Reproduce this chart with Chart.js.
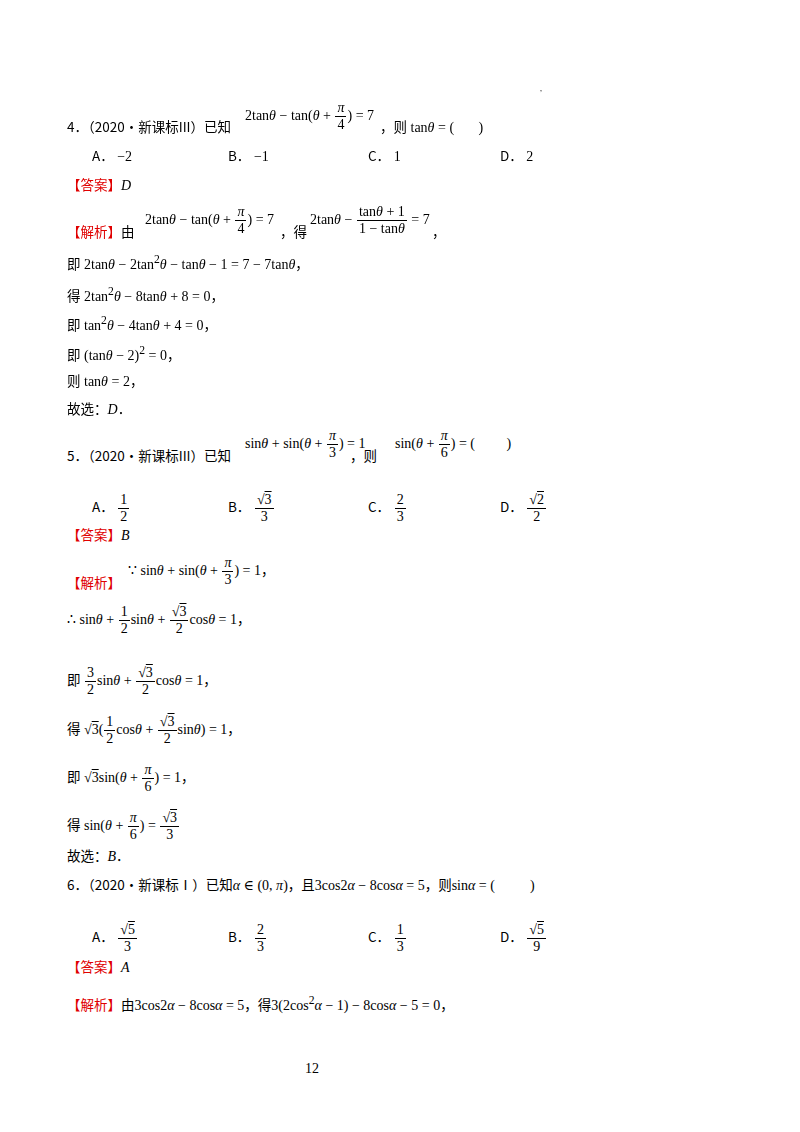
<!DOCTYPE html>
<html><head><meta charset="utf-8">
<script src="https://cdn.jsdelivr.net/npm/chart.js@4/dist/chart.umd.min.js"></script>
<style>
body{margin:0;width:800px;height:1132px;background:#fff;position:relative;overflow:hidden;font-family:"Liberation Serif","DejaVu Serif",serif;color:#000}
#bg{position:absolute;left:0;top:0;width:800px;height:1132px}
.t{position:absolute;font-size:14px;white-space:nowrap;line-height:1}
.cn{font-family:"Noto Sans CJK SC",sans-serif;font-size:13.5px}
.r{color:#e00000;font-family:"Noto Sans CJK SC",sans-serif;font-size:13.5px}
.i{font-style:italic}
.f{display:inline-block;vertical-align:middle;text-align:center;margin:0 1px}
.f>span{display:block;padding:0 2px;line-height:1.15}
.f>span:first-child{border-bottom:1px solid #000}
</style></head><body>
<canvas id="bg"></canvas>
<div id="page"></div>
<script>
const categories=[];const values=[];
new Chart(document.getElementById('bg'),{type:'bar',data:{labels:categories,datasets:[{data:values}]},
options:{responsive:false,animation:false,plugins:{legend:{display:false},tooltip:{enabled:false}},scales:{x:{display:false},y:{display:false}}}});
const F=(n,d)=>`<span class="f"><span>${n}</span><span>${d}</span></span>`;
const S='√';
const th='<span class="i">θ</span>',al='<span class="i">α</span>';
const lines=[
[540,88,'<span style="font-size:8px">,</span>'],
[67,128,'<span class="cn">4．（2020•新课标III）已知</span>'],
[245,108,`2tan${th} − tan(${th} + ${F('<span class="i">π</span>','4')}) = 7`],
[380,128,`<span class="cn">，则</span> tan${th} = (&nbsp;&nbsp;&nbsp;&nbsp;&nbsp;&nbsp;&nbsp;)`],
[92,157,'<span class="cn">A．</span> −2'],[228,157,'<span class="cn">B．</span> −1'],[368,157,'<span class="cn">C．</span> 1'],[500,157,'<span class="cn">D．</span> 2'],
[67,186,'<span class="r">【答案】</span><span class="i">D</span>'],
[67,233,'<span class="r">【解析】</span><span class="cn">由</span>'],
[145,212,`2tan${th} − tan(${th} + ${F('<span class="i">π</span>','4')}) = 7`],
[280,233,'<span class="cn">，得</span>'],
[310,212,`2tan${th} − ${F(`tan${th} + 1`,`1 − tan${th}`)} = 7`],
[432,233,'<span class="cn">，</span>'],
[67,262,`<span class="cn">即</span> 2tan${th} − 2tan<sup>2</sup>${th} − tan${th} − 1 = 7 − 7tan${th}<span class="cn">，</span>`],
[67,294,`<span class="cn">得</span> 2tan<sup>2</sup>${th} − 8tan${th} + 8 = 0<span class="cn">，</span>`],
[67,323,`<span class="cn">即</span> tan<sup>2</sup>${th} − 4tan${th} + 4 = 0<span class="cn">，</span>`],
[67,353,`<span class="cn">即</span> (tan${th} − 2)<sup>2</sup> = 0<span class="cn">，</span>`],
[67,382,`<span class="cn">则</span> tan${th} = 2<span class="cn">，</span>`],
[67,410,'<span class="cn">故选：</span><span class="i">D</span><span class="cn">．</span>'],
[67,457,'<span class="cn">5．（2020•新课标III）已知</span>'],
[245,436,`sin${th} + sin(${th} + ${F('<span class="i">π</span>','3')}) = 1`],
[350,457,'<span class="cn">，则</span>'],
[395,436,`sin(${th} + ${F('<span class="i">π</span>','6')}) = (&nbsp;&nbsp;&nbsp;&nbsp;&nbsp;&nbsp;&nbsp;&nbsp;&nbsp;)`],
[92,500,`<span class="cn">A．</span> ${F('1','2')}`],[228,500,`<span class="cn">B．</span> ${F(S+'<span style="text-decoration:overline">3</span>','3')}`],
[368,500,`<span class="cn">C．</span> ${F('2','3')}`],[500,500,`<span class="cn">D．</span> ${F(S+'<span style="text-decoration:overline">2</span>','2')}`],
[67,536,'<span class="r">【答案】</span><span class="i">B</span>'],
[67,584,'<span class="r">【解析】</span>'],
[128,563,`∵ sin${th} + sin(${th} + ${F('<span class="i">π</span>','3')}) = 1<span class="cn">，</span>`],
[67,612,`∴ sin${th} + ${F('1','2')}sin${th} + ${F(S+'<span style="text-decoration:overline">3</span>','2')}cos${th} = 1<span class="cn">，</span>`],
[67,673,`<span class="cn">即</span> ${F('3','2')}sin${th} + ${F(S+'<span style="text-decoration:overline">3</span>','2')}cos${th} = 1<span class="cn">，</span>`],
[67,722,`<span class="cn">得</span> ${S}<span style="text-decoration:overline">3</span>(${F('1','2')}cos${th} + ${F(S+'<span style="text-decoration:overline">3</span>','2')}sin${th}) = 1<span class="cn">，</span>`],
[67,770,`<span class="cn">即</span> ${S}<span style="text-decoration:overline">3</span>sin(${th} + ${F('<span class="i">π</span>','6')}) = 1<span class="cn">，</span>`],
[67,818,`<span class="cn">得</span> sin(${th} + ${F('<span class="i">π</span>','6')}) = ${F(S+'<span style="text-decoration:overline">3</span>','3')}`],
[67,857,'<span class="cn">故选：</span><span class="i">B</span><span class="cn">．</span>'],
[67,886,`<span class="cn">6．（2020•新课标Ⅰ）已知</span>${al} ∈ (0, <span class="i">π</span>)<span class="cn">，且</span>3cos2${al} − 8cos${al} = 5<span class="cn">，则</span>sin${al} = (&nbsp;&nbsp;&nbsp;&nbsp;&nbsp;&nbsp;&nbsp;&nbsp;&nbsp;&nbsp;)`],
[92,930,`<span class="cn">A．</span> ${F(S+'<span style="text-decoration:overline">5</span>','3')}`],[228,930,`<span class="cn">B．</span> ${F('2','3')}`],
[368,930,`<span class="cn">C．</span> ${F('1','3')}`],[500,930,`<span class="cn">D．</span> ${F(S+'<span style="text-decoration:overline">5</span>','9')}`],
[67,968,'<span class="r">【答案】</span><span class="i">A</span>'],
[67,1003,`<span class="r">【解析】</span><span class="cn">由</span>3cos2${al} − 8cos${al} = 5<span class="cn">，得</span>3(2cos<sup>2</sup>${al} − 1) − 8cos${al} − 5 = 0<span class="cn">，</span>`],
[305,1070,'12']
];
const page=document.getElementById('page');
for(const [x,y,h] of lines){const d=document.createElement('div');d.className='t';d.style.left=x+'px';d.style.top=(y-8)+'px';d.innerHTML=h;page.appendChild(d);}
</script></body></html>
